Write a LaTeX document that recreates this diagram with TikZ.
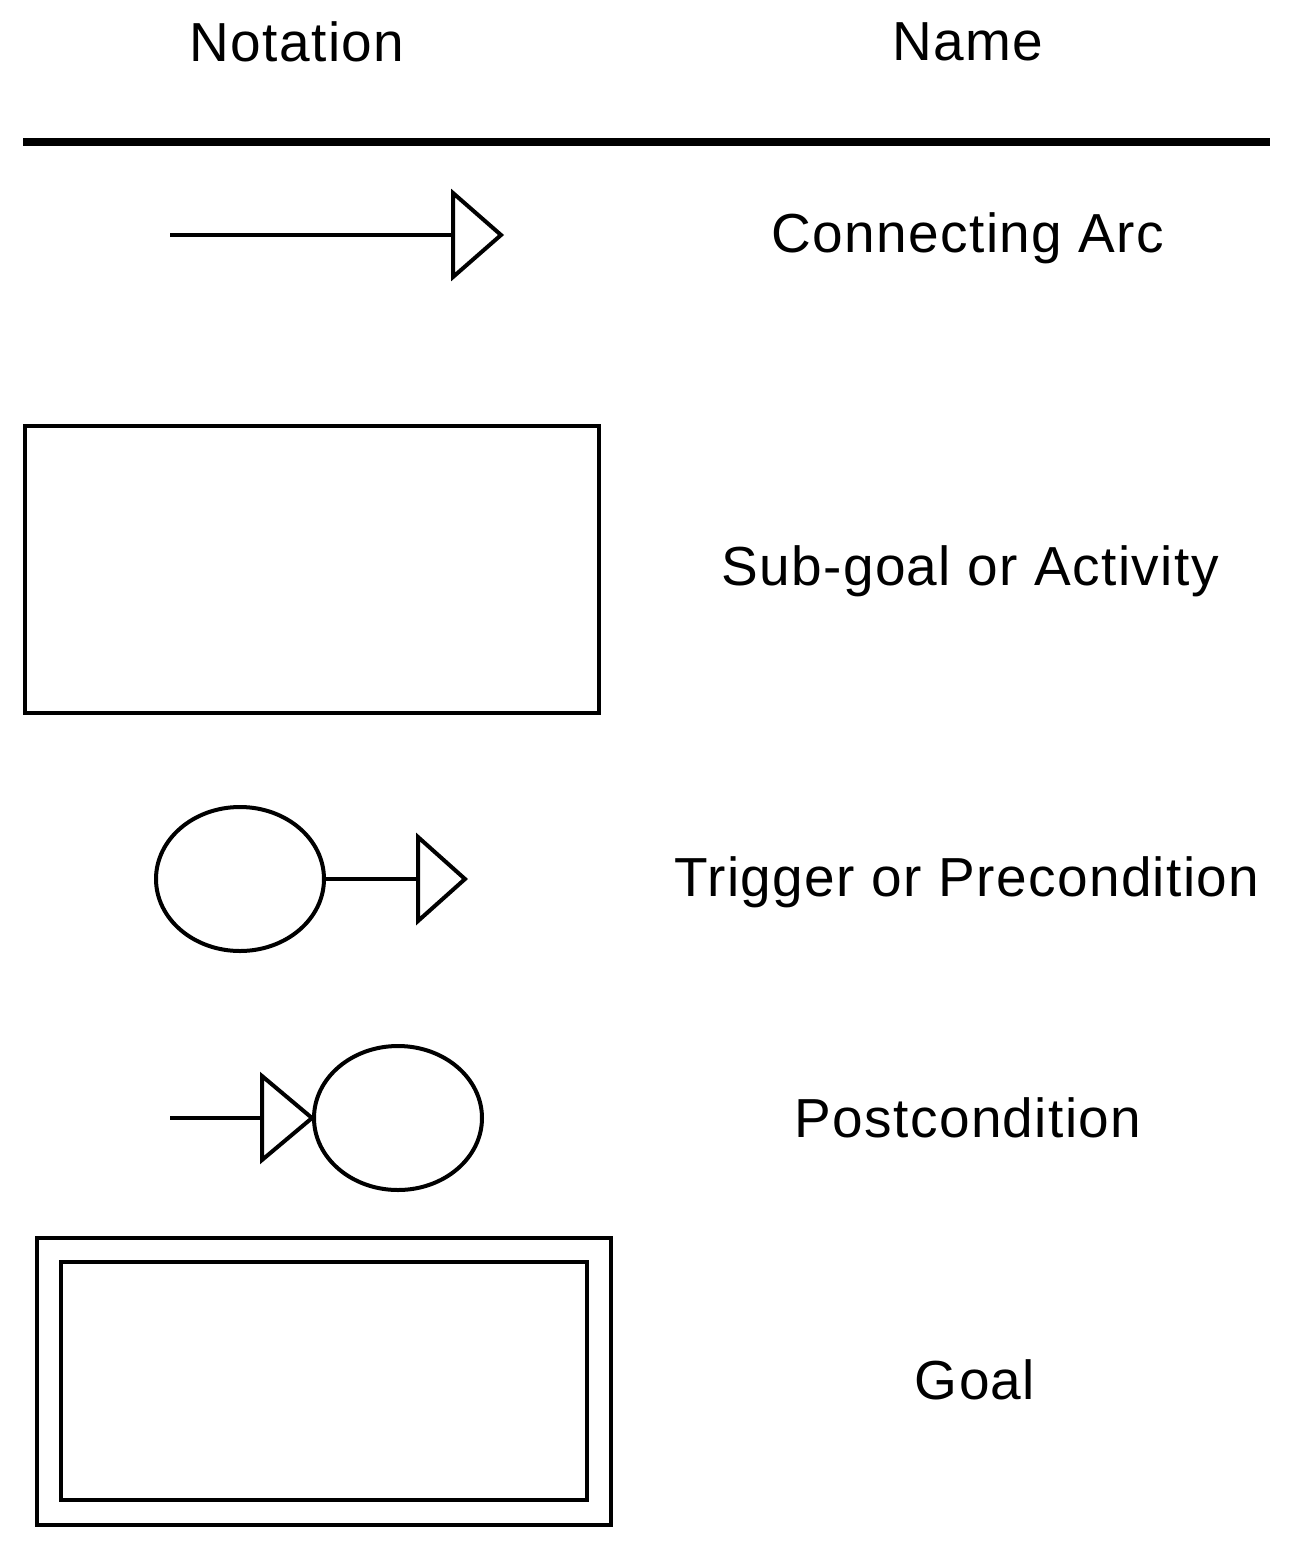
\documentclass[tikz,border=0pt]{standalone}
\usepackage{fontspec}
\setmainfont{Liberation Sans}[LetterSpace=2.5]
\usetikzlibrary{shapes.geometric}
\begin{document}
\begin{tikzpicture}[x=1pt,y=-1pt,
  lbl/.style={font=\fontsize{55}{60}\selectfont, inner sep=0pt},
  ln/.style={line width=4pt},
  tri/.style={ln, line join=miter},
  ell/.style={ellipse, draw, line width=4pt, minimum width=168pt, minimum height=144pt, inner sep=0pt}]
\useasboundingbox (0,0) rectangle (1294,1542);
\node[lbl] (h1) at (297,42) {Notation};
\node[lbl] (h2) at (968,42) {Name};
\draw[line width=8pt] (23,142) -- (1270,142);
% connecting arc
\coordinate (a1) at (170,235); \coordinate (a2) at (453,235);
\draw[ln] (a1) -- (a2);
\draw[tri] (453,193) -- (501,235) -- (453,277) -- cycle;
\node[lbl] (t1) at (968,238) {Connecting Arc};
% sub-goal
\node[draw, line width=4pt, minimum width=574pt, minimum height=287pt, inner sep=0pt] (sg) at (312,569.5) {};
\node[lbl] (t2) at (970,571) {Sub-goal or Activity};
% trigger
\node[ell] (e1) at (240,879) {};
\coordinate (p1) at (418,879);
\draw[ln] (e1.east) -- (p1);
\draw[tri] (418,837) -- (465,879) -- (418,921) -- cycle;
\node[lbl] (t3) at (967,882) {Trigger or Precondition};
% postcondition
\node[ell] (e2) at (398,1118) {};
\coordinate (q1) at (170,1118); \coordinate (q2) at (262,1118);
\draw[ln] (q1) -- (q2);
\draw[tri] (262,1076) -- (312,1118) -- (262,1160) -- cycle;
\node[lbl] (t4) at (968,1118) {Postcondition};
% goal
\node[draw, line width=4pt, minimum width=574pt, minimum height=287pt, inner sep=0pt] (go) at (324,1381.5) {};
\node[draw, line width=4pt, minimum width=526pt, minimum height=238pt, inner sep=0pt] (gi) at (324,1381) {};
\node[lbl] (t5) at (975,1380) {Goal};
\end{tikzpicture}
\end{document}
